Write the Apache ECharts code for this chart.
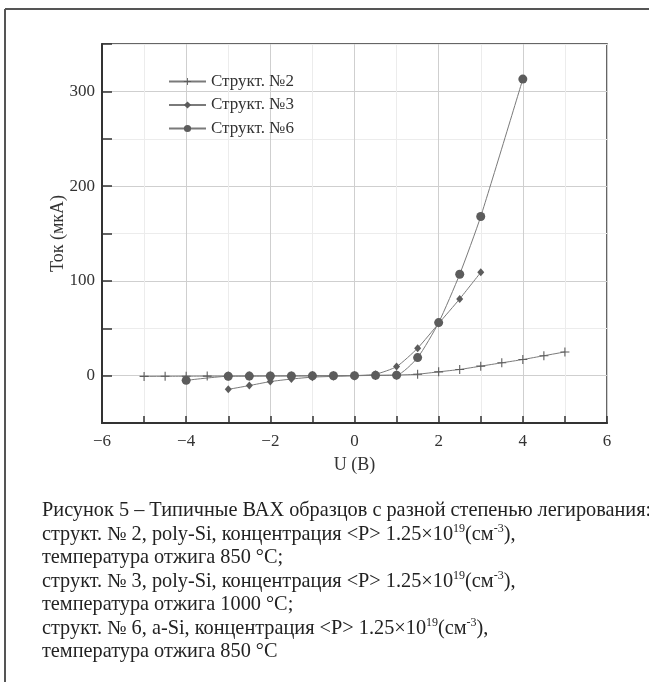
<!DOCTYPE html>
<html><head><meta charset="utf-8">
<script src="https://cdn.jsdelivr.net/npm/echarts@6/dist/echarts.min.js"></script>
<style>html,body{margin:0;padding:0;background:#fff}#c{width:649px;height:682px}</style>
</head><body><div id="c"></div>
<script>
const seriesNames = ['Структ. №2', 'Структ. №3', 'Структ. №6'];
const voltage2 = [-5,-4.5,-4,-3.5,-3,-2.5,-2,-1.5,-1,-0.5,0,0.5,1,1.5,2,2.5,3,3.5,4,4.5,5];
const current2 = [-0.8,-0.7,-0.6,-0.5,-0.5,-0.4,-0.3,-0.3,-0.2,-0.1,0,0.2,0.6,1.5,4,6.5,10,13.5,17,21,25];
const voltage3 = [-3,-2.5,-2,-1.5,-1,-0.5,0,0.5,1,1.5,2,2.5,3];
const current3 = [-14.5,-10.5,-6.3,-3.6,-1.6,-0.8,0,1.5,9.5,29,55,81,109];
const voltage6 = [-4,-3,-2.5,-2,-1.5,-1,-0.5,0,0.5,1,1.5,2,2.5,3,4];
const current6 = [-5,-0.6,-0.5,-0.4,-0.3,-0.2,-0.1,0,0.3,0.5,19,56,107,168,313];
const xAxisTitle = 'U (B)';
const yAxisTitle = 'Ток (мкА)';
const captionLines = [
  '{n|Рисунок 5 – Типичные ВАХ образцов с разной степенью легирования:}',
  '{n|структ. № 2, poly-Si, концентрация <P> 1.25×10}{s|19}{n|(см}{s|-3}{n|),}',
  '{n|температура отжига 850 °C;}',
  '{n|структ. № 3, poly-Si, концентрация <P> 1.25×10}{s|19}{n|(см}{s|-3}{n|),}',
  '{n|температура отжига 1000 °C;}',
  '{n|структ. № 6, a-Si, концентрация <P> 1.25×10}{s|19}{n|(см}{s|-3}{n|),}',
  '{n|температура отжига 850 °C}'
];

const FONT = 'Liberation Serif';
const pair = (xs, ys) => xs.map((x, i) => [x, ys[i]]);
const plusPath = 'path://M4.4,0 L5.6,0 L5.6,4.4 L10,4.4 L10,5.6 L5.6,5.6 L5.6,10 L4.4,10 L4.4,5.6 L0,5.6 L0,4.4 L4.4,4.4 Z';
const fmtMinus = v => String(v).replace('-', '\u2212');

const chart = echarts.init(document.getElementById('c'), null, {renderer: 'canvas'});
const lineColor = '#7a7a7a';
const markColor = '#5c5c5c';
const mk = (name, data, symbol, size) => ({
  name, type: 'line', data, symbol, symbolSize: size, smooth: 0.2,
  lineStyle: {color: lineColor, width: 1},
  itemStyle: {color: markColor},
  emphasis: {disabled: true}
});

chart.setOption({
  animation: false,
  backgroundColor: '#fff',
  grid: {left: 102, right: 42, top: 44, bottom: 259, show: true, borderColor: '#333', borderWidth: 1.5, backgroundColor: 'transparent'},
  legend: {
    orient: 'vertical', left: 163, top: 68, itemWidth: 37, itemHeight: 9, itemGap: 6.5,
    textStyle: {fontFamily: FONT, fontSize: 17, color: '#333'},
    data: seriesNames
  },
  xAxis: {
    type: 'value', min: -6, max: 6, interval: 1,
    name: xAxisTitle, nameLocation: 'middle', nameGap: 33, nameMoveOverlap: false,
    nameTextStyle: {fontFamily: FONT, fontSize: 18, color: '#333'},
    axisLine: {onZero: false, lineStyle: {color: '#333', width: 2}},
    axisTick: {inside: true, length: 7, lineStyle: {color: '#333', width: 1.5}},
    axisLabel: {fontFamily: FONT, fontSize: 17, color: '#333', margin: 10,
      formatter: v => (Math.round(v) % 2 === 0 ? fmtMinus(v) : '')},
    splitLine: {show: true, lineStyle: {color: ['#cfcfcf', '#ececec'], width: 1}}
  },
  yAxis: {
    type: 'value', min: -50, max: 350, interval: 50,
    name: yAxisTitle, nameLocation: 'middle', nameGap: 35, nameMoveOverlap: false,
    nameTextStyle: {fontFamily: FONT, fontSize: 18, color: '#333'},
    axisLine: {show: true, onZero: false, lineStyle: {color: '#333', width: 2}},
    axisTick: {show: true, inside: true, length: 10, lineStyle: {color: '#333', width: 1.5}},
    axisLabel: {fontFamily: FONT, fontSize: 17, color: '#333', margin: 7,
      formatter: v => (Math.round(v) % 100 === 0 ? fmtMinus(v) : '')},
    splitLine: {show: true, lineStyle: {color: ['#ececec', '#cfcfcf'], width: 1}}
  },
  series: [
    mk(seriesNames[0], pair(voltage2, current2), plusPath, [9, 9]),
    mk(seriesNames[1], pair(voltage3, current3), 'diamond', [7, 8]),
    mk(seriesNames[2], pair(voltage6, current6), 'circle', 9)
  ],
  graphic: [
    {type: 'line', shape: {x1: 5, y1: 9, x2: 649, y2: 9}, style: {stroke: '#555', lineWidth: 2}},
    {type: 'line', shape: {x1: 5, y1: 9, x2: 5, y2: 682}, style: {stroke: '#555', lineWidth: 2}},
    {type: 'text', left: 42, top: 501, style: {
      text: captionLines.join('\n'),
      fill: '#222',
      rich: {
        n: {fontFamily: FONT, fontSize: 20.3, lineHeight: 23.5, fill: '#222'},
        s: {fontFamily: FONT, fontSize: 12, lineHeight: 23.5, fill: '#222', verticalAlign: 'top', padding: [0,0,7,0]}
      }
    }}
  ]
});
</script></body></html>
